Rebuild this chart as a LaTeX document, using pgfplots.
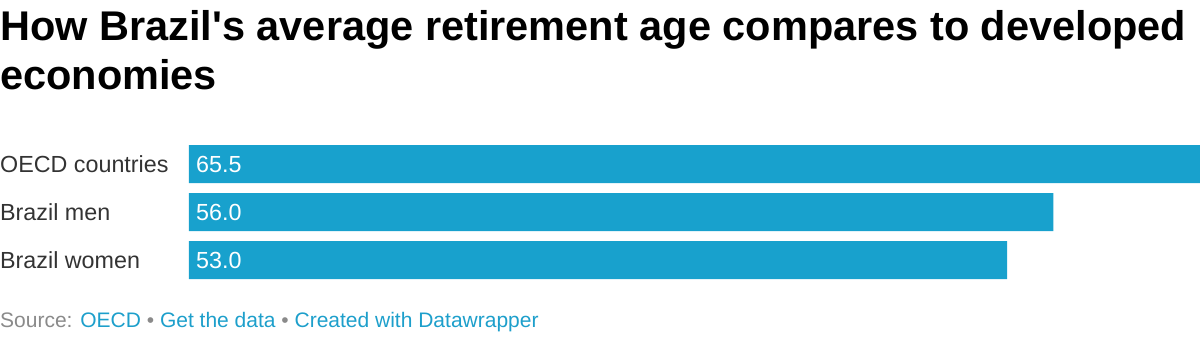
\documentclass[border=0pt]{standalone}
\usepackage{pgfplots}
\pgfplotsset{compat=1.18}
\usepackage{fontspec}
\setmainfont{Liberation Sans}
\definecolor{bar}{HTML}{18A1CD}
\definecolor{link}{HTML}{1D9FCB}
\definecolor{srcgrey}{HTML}{8A8A8A}
\definecolor{lab}{HTML}{333333}
\begin{document}
\begin{tikzpicture}
\useasboundingbox (0,0) rectangle (1200pt,-338pt);
\node[anchor=base west, inner sep=0pt, font=\fontsize{41.5}{46}\selectfont\bfseries] at (0pt,-40pt) {How Brazil\textquotesingle s average retirement age compares to developed};
\node[anchor=base west, inner sep=0pt, font=\fontsize{41.5}{46}\selectfont\bfseries] at (0pt,-89pt) {economies};
\begin{axis}[
  at={(189pt,-140pt)}, anchor=north west,
  scale only axis, width=1011pt, height=144pt,
  xmin=0, xmax=65.5, ymin=-0.5, ymax=2.5, y dir=reverse,
  axis line style={draw=none}, tick style={draw=none},
  xtick=\empty, ytick={0,1,2},
  yticklabels={OECD countries, Brazil men, Brazil women},
  yticklabel style={font=\fontsize{23.3}{26}\selectfont, text=lab, anchor=west, xshift=-189pt, inner sep=0pt},
  /pgf/number format/assume math mode=true,
  clip=false,
]
\addplot[xbar, bar width=38pt, fill=bar, draw=none] coordinates {(65.5,0) (56.0,1) (53.0,2)};
\addplot[only marks, mark=none, point meta=explicit,
  nodes near coords={\pgfmathprintnumber[fixed,fixed zerofill,precision=1,assume math mode=true]{\pgfplotspointmeta}},
  nodes near coords style={font=\fontsize{23.3}{26}\selectfont, text=white, anchor=west, xshift=7pt, inner sep=0pt}]
  coordinates {(0,0) [65.5] (0,1) [56.0] (0,2) [53.0]};
\end{axis}
\node[anchor=base west, inner sep=0pt, font=\fontsize{21}{22}\selectfont] at (0pt,-327pt) {\textcolor{srcgrey}{Source:} \textcolor{link}{OECD} \textcolor{srcgrey}{•} \textcolor{link}{Get the data} \textcolor{srcgrey}{•} \textcolor{link}{Created with Datawrapper}};
\end{tikzpicture}
\end{document}
